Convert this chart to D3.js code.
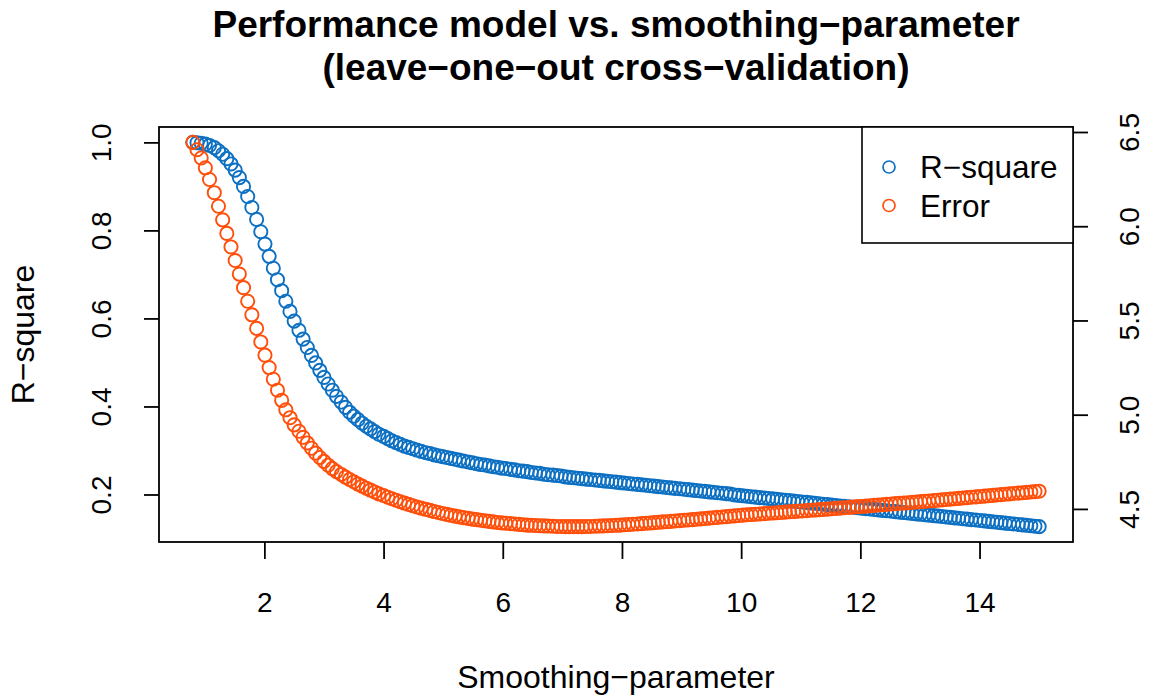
<!DOCTYPE html>
<html>
    <head>
        <title>Performance model vs. smoothing-parameter</title>
        <style>
            body { margin: 0; background: #ffffff; }
            svg { display: block; }
            text { font-family: "Liberation Sans", Arial, Helvetica, sans-serif; fill: #000; }
        </style>
        <script src="https://cdnjs.cloudflare.com/ajax/libs/d3/7.8.5/d3.min.js" charset="utf-8"></script>
    </head>
    <body>
        <div class="ChartContainer"></div>
        <script>
            // smoothing-parameter values (x), one per plotted point
            const smoothing = [
                0.80,0.87,0.94,1.01,1.08,1.16,1.23,1.30,1.37,1.44,
                1.51,1.58,1.65,1.72,1.79,1.87,1.94,2.01,2.08,2.15,
                2.22,2.29,2.36,2.43,2.50,2.58,2.65,2.72,2.79,2.86,
                2.93,3.00,3.07,3.14,3.21,3.29,3.36,3.43,3.50,3.57,
                3.64,3.71,3.78,3.85,3.92,4.00,4.07,4.14,4.21,4.28,
                4.35,4.42,4.49,4.56,4.63,4.71,4.78,4.85,4.92,4.99,
                5.06,5.13,5.20,5.27,5.34,5.42,5.49,5.56,5.63,5.70,
                5.77,5.84,5.91,5.98,6.05,6.13,6.20,6.27,6.34,6.41,
                6.48,6.55,6.62,6.69,6.76,6.84,6.91,6.98,7.05,7.12,
                7.19,7.26,7.33,7.40,7.47,7.55,7.62,7.69,7.76,7.83,
                7.90,7.97,8.04,8.11,8.18,8.26,8.33,8.40,8.47,8.54,
                8.61,8.68,8.75,8.82,8.89,8.97,9.04,9.11,9.18,9.25,
                9.32,9.39,9.46,9.53,9.60,9.68,9.75,9.82,9.89,9.96,
                10.03,10.10,10.17,10.24,10.31,10.39,10.46,10.53,10.60,10.67,
                10.74,10.81,10.88,10.95,11.02,11.10,11.17,11.24,11.31,11.38,
                11.45,11.52,11.59,11.66,11.73,11.81,11.88,11.95,12.02,12.09,
                12.16,12.23,12.30,12.37,12.44,12.52,12.59,12.66,12.73,12.80,
                12.87,12.94,13.01,13.08,13.15,13.23,13.30,13.37,13.44,13.51,
                13.58,13.65,13.72,13.79,13.86,13.94,14.01,14.08,14.15,14.22,
                14.29,14.36,14.43,14.50,14.57,14.65,14.72,14.79,14.86,14.93,
                15.00
            ];

            // R-square (left axis)
            const rSquare = [
                1.000,0.999,0.998,0.996,0.993,0.988,0.981,0.973,0.963,0.951,
                0.937,0.920,0.900,0.877,0.852,0.825,0.797,0.769,0.741,0.714,
                0.688,0.663,0.639,0.616,0.594,0.573,0.553,0.534,0.516,0.499,
                0.482,0.466,0.451,0.437,0.423,0.410,0.398,0.387,0.378,0.370,
                0.362,0.355,0.349,0.343,0.337,0.332,0.327,0.322,0.318,0.314,
                0.310,0.307,0.304,0.301,0.298,0.295,0.293,0.290,0.288,0.286,
                0.284,0.282,0.280,0.278,0.276,0.274,0.272,0.270,0.268,0.267,
                0.265,0.263,0.262,0.260,0.259,0.257,0.256,0.254,0.253,0.252,
                0.250,0.249,0.248,0.246,0.245,0.244,0.243,0.242,0.240,0.239,
                0.238,0.237,0.236,0.235,0.234,0.233,0.232,0.231,0.230,0.229,
                0.228,0.227,0.226,0.225,0.224,0.223,0.222,0.221,0.220,0.219,
                0.218,0.217,0.216,0.215,0.214,0.213,0.212,0.211,0.210,0.209,
                0.208,0.207,0.206,0.205,0.204,0.203,0.202,0.201,0.199,0.198,
                0.197,0.196,0.195,0.194,0.193,0.192,0.191,0.190,0.189,0.188,
                0.187,0.186,0.185,0.184,0.183,0.182,0.181,0.180,0.179,0.178,
                0.177,0.176,0.175,0.174,0.173,0.172,0.171,0.170,0.169,0.168,
                0.167,0.166,0.165,0.164,0.163,0.162,0.161,0.160,0.159,0.158,
                0.157,0.156,0.155,0.154,0.153,0.152,0.151,0.150,0.149,0.148,
                0.147,0.146,0.145,0.144,0.143,0.142,0.141,0.140,0.139,0.138,
                0.137,0.136,0.135,0.134,0.133,0.132,0.131,0.130,0.129,0.128,
                0.127
            ];

            // Error (right axis)
            const errorValues = [
                6.445,6.406,6.362,6.310,6.248,6.178,6.106,6.034,5.962,5.890,
                5.818,5.746,5.674,5.602,5.530,5.458,5.386,5.316,5.250,5.188,
                5.130,5.076,5.026,4.984,4.946,4.912,4.880,4.850,4.822,4.796,
                4.773,4.752,4.732,4.714,4.698,4.683,4.669,4.656,4.644,4.632,
                4.621,4.610,4.600,4.590,4.580,4.571,4.562,4.554,4.546,4.538,
                4.531,4.524,4.517,4.510,4.504,4.498,4.492,4.486,4.481,4.476,
                4.471,4.466,4.462,4.458,4.454,4.450,4.446,4.443,4.440,4.437,
                4.434,4.431,4.428,4.426,4.424,4.422,4.420,4.418,4.416,4.414,
                4.413,4.412,4.411,4.410,4.409,4.408,4.407,4.407,4.406,4.406,
                4.406,4.406,4.406,4.407,4.407,4.408,4.409,4.410,4.411,4.412,
                4.413,4.414,4.416,4.417,4.419,4.420,4.422,4.424,4.425,4.427,
                4.429,4.431,4.432,4.434,4.436,4.438,4.440,4.441,4.443,4.445,
                4.447,4.449,4.451,4.453,4.455,4.457,4.459,4.461,4.463,4.465,
                4.467,4.469,4.470,4.472,4.473,4.475,4.477,4.478,4.480,4.481,
                4.483,4.485,4.486,4.488,4.489,4.491,4.493,4.494,4.496,4.497,
                4.499,4.501,4.503,4.504,4.506,4.508,4.510,4.512,4.513,4.515,
                4.517,4.519,4.521,4.522,4.524,4.526,4.528,4.530,4.531,4.533,
                4.535,4.537,4.539,4.540,4.542,4.544,4.546,4.548,4.550,4.552,
                4.554,4.556,4.558,4.560,4.562,4.564,4.566,4.568,4.570,4.572,
                4.574,4.576,4.578,4.580,4.582,4.584,4.586,4.588,4.590,4.592,
                4.594
            ];

            const xTicks = [2, 4, 6, 8, 10, 12, 14];
            const leftTicks = [0.2, 0.4, 0.6, 0.8, 1.0];
            const rightTicks = [4.5, 5.0, 5.5, 6.0, 6.5];
            const seriesNames = ["R\u2212square", "Error"];
            const seriesColors = ["#0D70C2", "#FF4F0A"];

            const w = 1152;
            const h = 695;
            const plot = { left: 159, right: 1073, top: 127, bottom: 542 };

            // R style: pad the data range by 4% on each side
            function padded(values) {
                const [lo, hi] = d3.extent(values);
                const pad = (hi - lo) * 0.04;
                return [lo - pad, hi + pad];
            }

            const svg = d3.select(".ChartContainer")
                .append("svg")
                .attr("width", w)
                .attr("height", h);

            const xScale = d3.scaleLinear()
                .domain(padded(smoothing))
                .range([plot.left, plot.right]);

            const yLeft = d3.scaleLinear()
                .domain(padded(rSquare))
                .range([plot.bottom, plot.top]);

            const yRight = d3.scaleLinear()
                .domain(padded(errorValues))
                .range([plot.bottom, plot.top]);

            // points: R-square first, Error drawn on top
            const rData = smoothing.map((x, i) => [x, rSquare[i]]);
            const eData = smoothing.map((x, i) => [x, errorValues[i]]);

            svg.append("g")
                .selectAll("circle")
                .data(rData)
                .enter()
                .append("circle")
                .attr("cx", d => xScale(d[0]))
                .attr("cy", d => yLeft(d[1]))
                .attr("r", 6.6)
                .attr("fill", "none")
                .attr("stroke", seriesColors[0])
                .attr("stroke-width", 1.9);

            svg.append("g")
                .selectAll("circle")
                .data(eData)
                .enter()
                .append("circle")
                .attr("cx", d => xScale(d[0]))
                .attr("cy", d => yRight(d[1]))
                .attr("r", 6.6)
                .attr("fill", "none")
                .attr("stroke", seriesColors[1])
                .attr("stroke-width", 1.9);

            // box
            svg.append("rect")
                .attr("x", plot.left)
                .attr("y", plot.top)
                .attr("width", plot.right - plot.left)
                .attr("height", plot.bottom - plot.top)
                .attr("fill", "none")
                .attr("stroke", "#000")
                .attr("stroke-width", 1.8);

            // x axis
            const xAxis = d3.axisBottom(xScale)
                .tickValues(xTicks)
                .tickSize(17)
                .tickSizeOuter(0)
                .tickFormat(d3.format("d"));
            const gx = svg.append("g")
                .attr("transform", "translate(0," + plot.bottom + ")")
                .call(xAxis);
            gx.select(".domain").remove();
            gx.selectAll("line").attr("stroke", "#000").attr("stroke-width", 1.8);
            gx.selectAll("text")
                .attr("y", 70)
                .attr("dy", 0)
                .attr("font-size", 28)
                .attr("font-family", "Liberation Sans, Arial, sans-serif");

            // left axis, labels rotated
            const yAxisL = d3.axisLeft(yLeft)
                .tickValues(leftTicks)
                .tickSize(15)
                .tickSizeOuter(0)
                .tickFormat(d3.format(".1f"));
            const gl = svg.append("g")
                .attr("transform", "translate(" + plot.left + ",0)")
                .call(yAxisL);
            gl.select(".domain").remove();
            gl.selectAll("line").attr("stroke", "#000").attr("stroke-width", 1.8);
            gl.selectAll("text")
                .attr("x", 0)
                .attr("y", -48)
                .attr("dy", 0)
                .attr("transform", "rotate(-90)")
                .attr("text-anchor", "middle")
                .attr("font-size", 28)
                .attr("font-family", "Liberation Sans, Arial, sans-serif");

            // right axis, labels rotated
            const yAxisR = d3.axisRight(yRight)
                .tickValues(rightTicks)
                .tickSize(15)
                .tickSizeOuter(0)
                .tickFormat(d3.format(".1f"));
            const gr = svg.append("g")
                .attr("transform", "translate(" + plot.right + ",0)")
                .call(yAxisR);
            gr.select(".domain").remove();
            gr.selectAll("line").attr("stroke", "#000").attr("stroke-width", 1.8);
            gr.selectAll("text")
                .attr("x", 0)
                .attr("y", 66)
                .attr("dy", 0)
                .attr("transform", "rotate(-90)")
                .attr("text-anchor", "middle")
                .attr("font-size", 28)
                .attr("font-family", "Liberation Sans, Arial, sans-serif");

            // titles
            const cx = (plot.left + plot.right) / 2;
            svg.append("text")
                .attr("x", cx).attr("y", 37)
                .attr("text-anchor", "middle")
                .attr("font-size", 37)
                .attr("font-weight", "bold")
                .text("Performance model vs. smoothing\u2212parameter");
            svg.append("text")
                .attr("x", cx).attr("y", 80)
                .attr("text-anchor", "middle")
                .attr("font-size", 37)
                .attr("font-weight", "bold")
                .text("(leave\u2212one\u2212out cross\u2212validation)");

            svg.append("text")
                .attr("x", cx).attr("y", 688)
                .attr("text-anchor", "middle")
                .attr("font-size", 32)
                .text("Smoothing\u2212parameter");

            svg.append("text")
                .attr("transform", "translate(34," + ((plot.top + plot.bottom) / 2) + ") rotate(-90)")
                .attr("text-anchor", "middle")
                .attr("font-size", 32)
                .text("R\u2212square");

            // legend, top right corner of the plot
            const legend = svg.append("g");
            legend.append("rect")
                .attr("x", 862)
                .attr("y", plot.top)
                .attr("width", plot.right - 862)
                .attr("height", 116)
                .attr("fill", "#fff")
                .attr("stroke", "#000")
                .attr("stroke-width", 1.6);

            seriesNames.forEach((name, i) => {
                const ly = 167 + i * 38.5;
                legend.append("circle")
                    .attr("cx", 889)
                    .attr("cy", ly)
                    .attr("r", 6)
                    .attr("fill", "none")
                    .attr("stroke", seriesColors[i])
                    .attr("stroke-width", 1.7);
                legend.append("text")
                    .attr("x", 920)
                    .attr("y", ly + 11)
                    .attr("font-size", 31.5)
                    .text(name);
            });
        </script>
    </body>
</html>
